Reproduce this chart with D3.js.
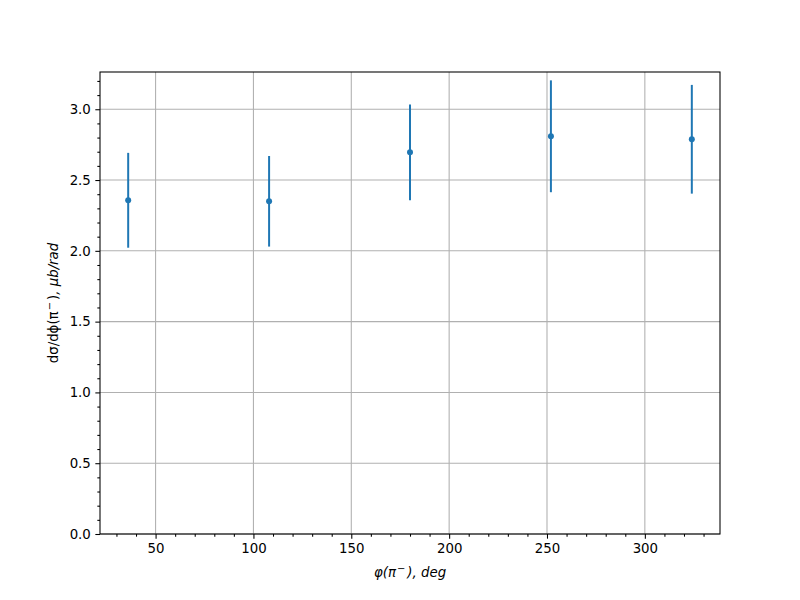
<!DOCTYPE html>
<html>
<head>
<meta charset="utf-8">
<script src="https://cdn.jsdelivr.net/npm/d3@7"></script>
<style>
  body { margin: 0; background: #fff; }
  text { font-family: "DejaVu Sans", sans-serif; }
</style>
</head>
<body>
<svg id="chart" width="800" height="600"></svg>
<script>
const phi = [36, 108, 180, 252, 324];
const xsec = [2.357, 2.350, 2.696, 2.809, 2.788];
const err = [0.335, 0.320, 0.338, 0.395, 0.384];
const xTicks = [50, 100, 150, 200, 250, 300];
const yTicks = [0, 0.5, 1.0, 1.5, 2.0, 2.5, 3.0];

const svg = d3.select("#chart");
const m = { left: 100, right: 720, top: 72, bottom: 534 };
const color = "#1f77b4";

const xMin = d3.min(phi), xMax = d3.max(phi);
const xPad = (xMax - xMin) * 0.05;
const x = d3.scaleLinear().domain([xMin - xPad, xMax + xPad]).range([m.left, m.right]);
const lo = d3.min(xsec.map((v, i) => v - err[i]));
const hi = d3.max(xsec.map((v, i) => v + err[i]));
const y = d3.scaleLinear().domain([0, hi + (hi - lo) * 0.05]).range([m.bottom, m.top]);

// grid
const g = svg.append("g");
g.selectAll("line.gx").data(xTicks).join("line")
  .attr("x1", d => x(d)).attr("x2", d => x(d))
  .attr("y1", m.top).attr("y2", m.bottom)
  .attr("stroke", "#b0b0b0").attr("stroke-width", 1.07);
g.selectAll("line.gy").data(yTicks).join("line")
  .attr("y1", d => y(d)).attr("y2", d => y(d))
  .attr("x1", m.left).attr("x2", m.right)
  .attr("stroke", "#b0b0b0").attr("stroke-width", 1.07);

// axes
const xAxis = d3.axisBottom(x).tickValues(xTicks).tickFormat(d3.format("d")).tickSize(4.67).tickPadding(4.5);
const xMinor = d3.axisBottom(x).tickValues(d3.range(30, 340, 10).filter(v => v % 50 !== 0)).tickFormat("").tickSize(2.67);
const yAxis = d3.axisLeft(y).tickValues(yTicks).tickFormat(d3.format(".1f")).tickSize(4.67).tickPadding(4.5);
const yMinor = d3.axisLeft(y).tickValues(d3.range(1, 33).map(v => v / 10).filter(v => Math.round(v * 10) % 5 !== 0)).tickFormat("").tickSize(2.67);

function style(sel) {
  sel.select(".domain").remove();
  sel.selectAll("line").attr("stroke", "#000").attr("stroke-width", 1.07);
  sel.selectAll("text").attr("font-size", "13.33px").attr("fill", "#000").attr("font-family", "DejaVu Sans");
}
svg.append("g").attr("transform", `translate(0,${m.bottom})`).call(xAxis).call(style);
svg.append("g").attr("transform", `translate(0,${m.bottom})`).call(xMinor).call(style);
svg.append("g").attr("transform", `translate(${m.left},0)`).call(yAxis).call(style);
svg.append("g").attr("transform", `translate(${m.left},0)`).call(yMinor).call(style);

// frame
svg.append("rect").attr("x", m.left).attr("y", m.top)
  .attr("width", m.right - m.left).attr("height", m.bottom - m.top)
  .attr("fill", "none").attr("stroke", "#000").attr("stroke-width", 1.07);

// error bars
const data = phi.map((p, i) => ({ p, v: xsec[i], e: err[i] }));
svg.append("g").selectAll("line").data(data).join("line")
  .attr("x1", d => x(d.p)).attr("x2", d => x(d.p))
  .attr("y1", d => y(d.v - d.e)).attr("y2", d => y(d.v + d.e))
  .attr("stroke", color).attr("stroke-width", 2);
svg.append("g").selectAll("circle").data(data).join("circle")
  .attr("cx", d => x(d.p)).attr("cy", d => y(d.v)).attr("r", 3)
  .attr("fill", color);

// x label
const xl = svg.append("text").attr("x", (m.left + m.right) / 2).attr("y", 577)
  .attr("text-anchor", "middle").attr("font-size", "13.33px").attr("font-style", "italic");
xl.append("tspan").text("φ(π");
xl.append("tspan").attr("font-size", "10px").attr("font-style", "normal").attr("dy", -5).attr("dx", 1).text("−");
xl.append("tspan").attr("dy", 5).attr("dx", 2).text("), deg");

// y label
const yl = svg.append("text")
  .attr("transform", `translate(58,${(m.top + m.bottom) / 2}) rotate(-90)`)
  .attr("text-anchor", "middle").attr("font-size", "13.33px");
yl.append("tspan").text("dσ/dϕ(π");
yl.append("tspan").attr("font-size", "10px").attr("dy", -5).attr("dx", 1).text("−");
yl.append("tspan").attr("dy", 5).attr("dx", 2).text(")");
yl.append("tspan").attr("font-style", "italic").text(", μb/rad");
</script>
</body>
</html>
